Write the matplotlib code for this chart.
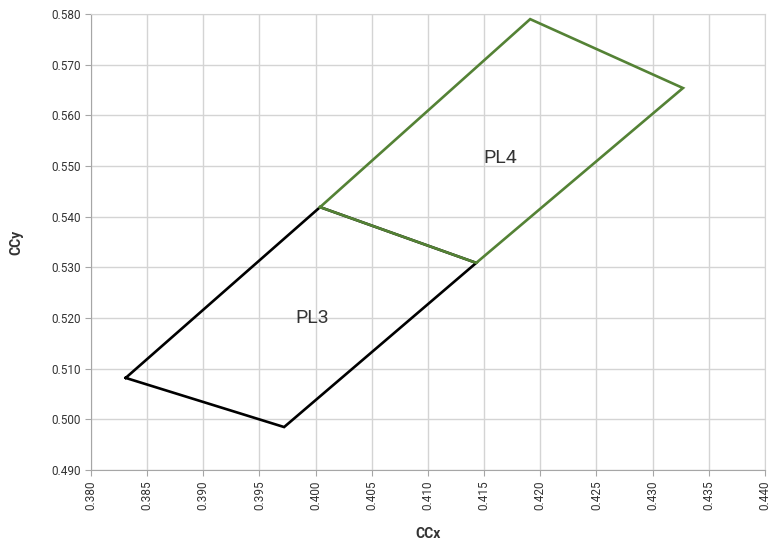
import matplotlib.pyplot as plt
from matplotlib.ticker import MultipleLocator, FormatStrFormatter

plt.rcParams['font.family'] = ['Roboto', 'DejaVu Sans']

# polygon corners (CCx, CCy)
pl3_x = [0.3831, 0.3972, 0.4143, 0.4004, 0.3831]
pl3_y = [0.5082, 0.4985, 0.5309, 0.5419, 0.5082]
pl4_x = [0.4004, 0.4143, 0.4327, 0.4191, 0.4004]
pl4_y = [0.5419, 0.5309, 0.5654, 0.5790, 0.5419]

labels = ["PL3", "PL4"]
label_x = [0.3997, 0.4164]
label_y = [0.5200, 0.5516]

fig = plt.figure(figsize=(7.7, 5.41), dpi=100)
ax = fig.add_axes([0.118, 0.131, 0.8755, 0.843])

ax.plot(pl3_x, pl3_y, color='black', lw=1.9, solid_joinstyle='miter', zorder=3)
ax.plot(pl4_x, pl4_y, color='#548235', lw=1.9, solid_joinstyle='miter', zorder=4)

for t, x, y in zip(labels, label_x, label_y):
    ax.text(x, y, t, fontsize=14, color='#333333', ha='center', va='center')

ax.set_xlim(0.380, 0.440)
ax.set_ylim(0.490, 0.580)
ax.xaxis.set_major_locator(MultipleLocator(0.005))
ax.yaxis.set_major_locator(MultipleLocator(0.010))
ax.xaxis.set_major_formatter(FormatStrFormatter('%.3f'))
ax.yaxis.set_major_formatter(FormatStrFormatter('%.3f'))
ax.grid(True, color='#d4d4d4', lw=1)
ax.set_axisbelow(True)

for s in ['top', 'right']:
    ax.spines[s].set_color('#d4d4d4')
for s in ['left', 'bottom']:
    ax.spines[s].set_color('#a6a6a6')
ax.tick_params(axis='both', colors='#a6a6a6', labelcolor='#333333', labelsize=8.5, length=4)
ax.tick_params(axis='x', labelrotation=90)

ax.set_xlabel("CCx", fontsize=10, fontweight='bold', color='#333333', labelpad=12)
ax.set_ylabel("CCy", fontsize=10, fontweight='bold', color='#333333', labelpad=20)

plt.savefig("out.png", dpi=100)
